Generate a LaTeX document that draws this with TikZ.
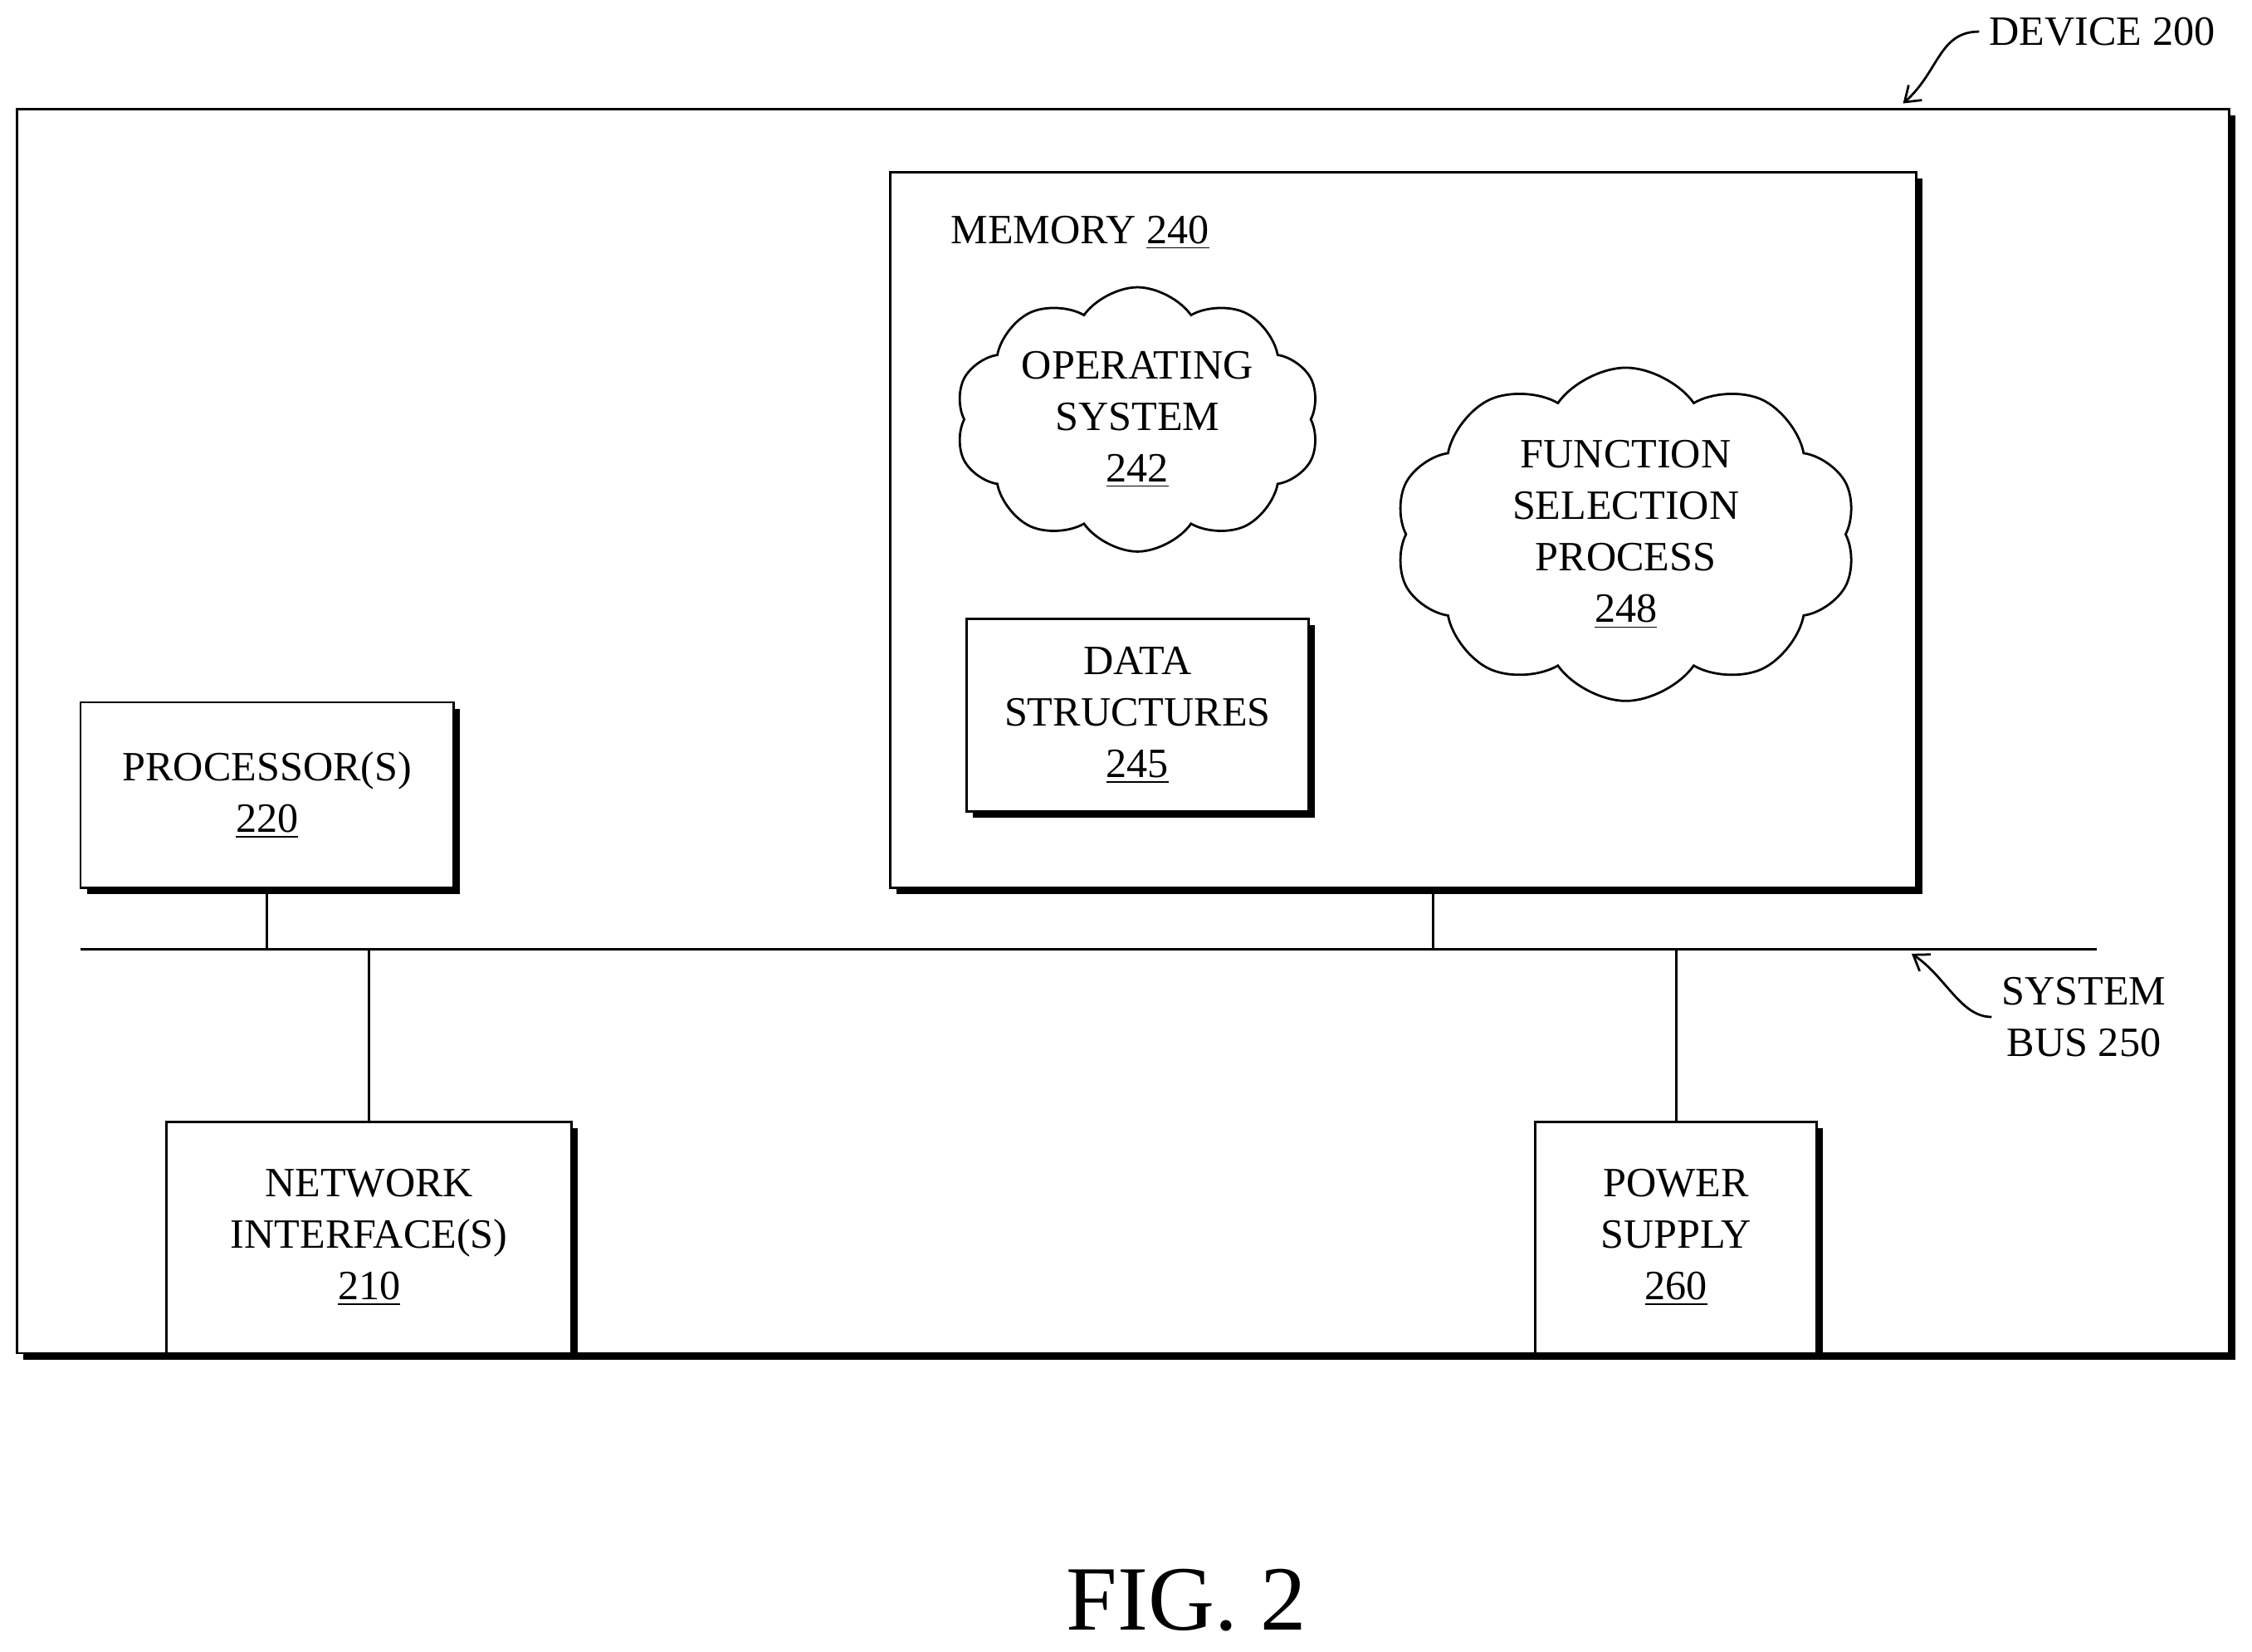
\documentclass[tikz,border=0pt]{standalone}
\usepackage{fontspec}
\setmainfont{Liberation Serif}
\usetikzlibrary{shapes.symbols,shadows,arrows.meta}
\begin{document}
\begin{tikzpicture}[x=0.5pt,y=-0.5pt,
  box/.style={draw,line width=0.8pt,fill=white,align=center,font=\fontsize{14.5}{18}\selectfont,
    drop shadow={shadow xshift=2.2pt,shadow yshift=-2.2pt,opacity=1,fill=black},inner sep=0},
  cl/.style={draw,line width=0.8pt,cloud,cloud puffs=10,cloud puff arc=110,inner sep=0},
  ln/.style={line width=0.8pt},
  lbl/.style={font=\fontsize{14.5}{18}\selectfont,align=center}]
\useasboundingbox (0,0) rectangle (1568,1150);
\node[box,minimum width=770pt,minimum height=433pt] (dev) at (782,509) {};
\node[box,minimum width=357pt,minimum height=249pt] (mem) at (977,369) {};
\node[lbl] (memlbl) at (752,162) {MEMORY \underline{240}};
\node[cl,aspect=1.37,minimum width=127pt,minimum height=92pt] (os) at (792,292) {};
\node[lbl] (ost) at (os.center) {OPERATING\\SYSTEM\\\underline{242}};
\node[cl,aspect=1.39,minimum width=161pt,minimum height=116pt] (fsp) at (1132,372) {};
\node[lbl] (fspt) at (fsp.center) {FUNCTION\\SELECTION\\PROCESS\\\underline{248}};
\node[box,minimum width=119pt,minimum height=67pt] (ds) at (792,498) {DATA\\STRUCTURES\\\underline{245}};
\node[box,minimum width=130pt,minimum height=64.5pt] (proc) at (186,553.5) {PROCESSOR(S)\\\underline{220}};
\node[box,minimum width=141pt,minimum height=80.5pt] (net) at (257,861.5) {NETWORK\\INTERFACE(S)\\\underline{210}};
\node[box,minimum width=98pt,minimum height=80.5pt] (pow) at (1167,861.5) {POWER\\SUPPLY\\\underline{260}};
\coordinate (bl) at (56,661); \coordinate (br) at (1460,661);
\draw[ln] (bl) -- (br);
\draw[ln] (proc.south) -- (proc.south |- bl);
\draw[ln] (mem.south -| 998,0) -- (998,661);
\draw[ln] (net.north) -- (net.north |- bl);
\draw[ln] (pow.north) -- (pow.north |- bl);
\node[lbl,anchor=west] (devlbl) at (1378,22) {DEVICE 200};
\coordinate (dtip) at (1325,72);
\draw[ln,-{Straight Barb[length=5pt,width=7pt]}] (devlbl.west) .. controls (1350,22) and (1350,50) .. (dtip);
\node[lbl] (buslbl) at (1451,708) {SYSTEM\\BUS 250};
\coordinate (btip) at (1331,664);
\draw[ln,-{Straight Barb[length=5pt,width=7pt]}] (buslbl.west) .. controls (1365,708) and (1355,680) .. (btip);
\node[font=\fontsize{32}{38}\selectfont] (fig) at (826,1114) {FIG. 2};
\end{tikzpicture}
\end{document}
